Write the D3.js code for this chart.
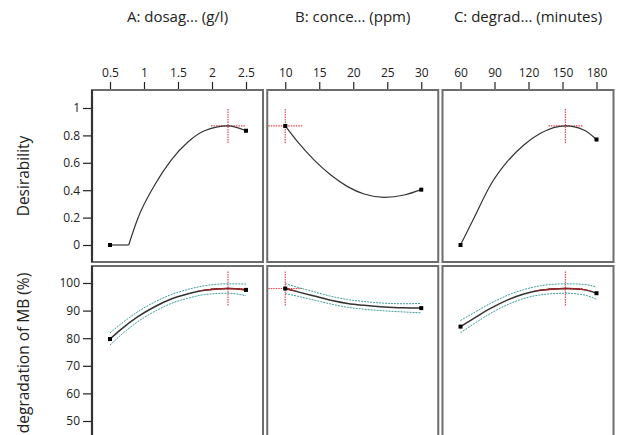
<!DOCTYPE html>
<html>
<head>
<meta charset="utf-8">
<script src="https://cdn.jsdelivr.net/npm/d3@7"></script>
<style>
  html, body { margin: 0; padding: 0; background: #fff; overflow: hidden; }
  svg { display: block; }
</style>
</head>
<body>
<svg id="chart" width="619" height="435"></svg>
<script>
// ---- Factor names and axis ticks ----
const factorTitles = ["A: dosag... (g/l)", "B: conce... (ppm)", "C: degrad... (minutes)"];
const dosageTicks = [0.5, 1, 1.5, 2, 2.5];
const concentrationTicks = [10, 15, 20, 25, 30];
const timeTicks = [60, 90, 120, 150, 180];
const desirabilityTicks = [0, 0.2, 0.4, 0.6, 0.8, 1];
const responseTicks = [40, 50, 60, 70, 80, 90, 100];
const rowTitles = ["Desirability", "degradation of MB (%)"];

// ---- Optimum (crosshair) ----
const optimumFactor = [2.235, 10, 152.6];
const optimumDesirability = 0.869;
const optimumResponse = 98.0;
const highlightFloor = 97.2;   // response values above this are drawn in red

// ---- Desirability traces ----
const dosageDesLevels = [0.5, 0.775, 0.91, 1.157, 1.40, 1.65, 1.89, 2.235, 2.5];
const dosageDesirability = [0, 0, 0.195, 0.438, 0.62, 0.754, 0.834, 0.869, 0.834];
const concDesLevels = [10, 11.8, 14.26, 16.7, 19.17, 21.6, 24.56, 27.5, 30];
const concDesirability = [0.869, 0.754, 0.62, 0.511, 0.426, 0.372, 0.348, 0.365, 0.404];
const timeDesLevels = [60, 71.8, 86.5, 101.2, 115.9, 130.6, 152.6, 168.8, 180];
const timeDesirability = [0, 0.195, 0.438, 0.608, 0.73, 0.815, 0.869, 0.839, 0.77];

// ---- Predicted degradation with confidence band ----
const dosageRespLevels = [0.5, 0.667, 0.91, 1.157, 1.40, 1.65, 1.89, 2.235, 2.5];
const dosageResponse = [79.7, 83.3, 87.8, 91.4, 94.2, 96.1, 97.4, 98.0, 97.5];
const dosageUpper = [81.9, 85.3, 89.6, 93.1, 95.8, 97.7, 99.0, 99.7, 99.6];
const dosageLower = [77.5, 81.3, 86.0, 89.7, 92.6, 94.5, 95.8, 96.3, 95.4];

const concRespLevels = [10, 12, 14.26, 17.06, 19.17, 21.6, 24.56, 27.5, 30];
const concResponse = [98.0, 96.7, 95.3, 93.6, 92.6, 91.9, 91.3, 91.0, 90.9];
const concUpper = [99.8, 98.3, 96.8, 95.0, 94.0, 93.3, 92.7, 92.5, 92.6];
const concLower = [96.2, 95.1, 93.8, 92.2, 91.2, 90.5, 89.9, 89.5, 89.2];

const timeRespLevels = [60, 71.8, 86.5, 101.2, 115.9, 130.6, 152.6, 168.8, 180];
const timeResponse = [84.2, 87.2, 90.8, 93.8, 96.0, 97.35, 98.0, 97.6, 96.3];
const timeUpper = [86.4, 89.2, 92.6, 95.5, 97.6, 99.0, 99.7, 99.5, 98.5];
const timeLower = [82.0, 85.2, 89.0, 92.1, 94.4, 95.7, 96.3, 95.7, 94.1];

// ---- Assemble per-factor records ----
const factors = [
  { title: factorTitles[0], ticks: dosageTicks, desLevels: dosageDesLevels, des: dosageDesirability,
    respLevels: dosageRespLevels, resp: dosageResponse, upper: dosageUpper, lower: dosageLower },
  { title: factorTitles[1], ticks: concentrationTicks, desLevels: concDesLevels, des: concDesirability,
    respLevels: concRespLevels, resp: concResponse, upper: concUpper, lower: concLower },
  { title: factorTitles[2], ticks: timeTicks, desLevels: timeDesLevels, des: timeDesirability,
    respLevels: timeRespLevels, resp: timeResponse, upper: timeUpper, lower: timeLower }
];

// ---- Layout ----
const FONT = "'Segoe UI','Open Sans','Noto Sans',sans-serif";
const panelX0 = 92, panelStep = 175.25, panelW = 171;
const padL = 18, padR = 17;
const rows = [
  { top: 90, bottom: 262, domain: [0, 1], range: [245, 108], ticks: desirabilityTicks, title: rowTitles[0] },
  { top: 266, bottom: 440, domain: [50, 100], range: [421, 283], ticks: responseTicks, title: rowTitles[1] }
];
const crossHalf = 17;

const svg = d3.select("#chart");
const defs = svg.append("defs");

const yScales = rows.map(r => d3.scaleLinear().domain(r.domain).range(r.range));

const lineColor = "#333";
const bandColor = "#3f9e9e";
const crossColor = "#e8484e";
const hiColor = "#9b2226";
const borderColor = "#6d6d6d";

factors.forEach((f, i) => {
  const left = panelX0 + i * panelStep;
  const x = d3.scaleLinear()
    .domain([f.ticks[0], f.ticks[f.ticks.length - 1]])
    .range([left + padL, left + panelW - padR]);

  // column title
  svg.append("text")
    .attr("x", left + panelW / 2).attr("y", 22)
    .attr("text-anchor", "middle")
    .attr("font-family", FONT).attr("font-size", 15).attr("fill", "#222")
    .text(f.title);

  // top factor axis
  const xAxis = svg.append("g")
    .attr("transform", `translate(0,${rows[0].top})`)
    .call(d3.axisTop(x).tickValues(f.ticks).tickSize(8).tickSizeOuter(0).tickPadding(5)
      .tickFormat(d3.format("~g")));
  xAxis.select(".domain").remove();
  xAxis.selectAll("line").attr("stroke", "#222").attr("stroke-width", 1.2);
  xAxis.selectAll("text").attr("font-family", FONT).attr("font-size", 12).attr("fill", "#222");

  rows.forEach((r, ri) => {
    const y = yScales[ri];
    const clipId = `clip-${i}-${ri}`;
    defs.append("clipPath").attr("id", clipId)
      .append("rect").attr("x", left).attr("y", r.top).attr("width", panelW).attr("height", r.bottom - r.top);

    const g = svg.append("g").attr("clip-path", `url(#${clipId})`);

    const optX = x(optimumFactor[i]);
    const optY = ri === 0 ? y(optimumDesirability) : y(optimumResponse);

    // crosshair at the optimum
    g.append("line")
      .attr("x1", optX).attr("x2", optX).attr("y1", optY - crossHalf).attr("y2", optY + crossHalf)
      .attr("stroke", crossColor).attr("stroke-width", 1.2).attr("stroke-dasharray", "1.5,1");
    g.append("line")
      .attr("x1", optX - crossHalf).attr("x2", optX + crossHalf).attr("y1", optY).attr("y2", optY)
      .attr("stroke", crossColor).attr("stroke-width", 1.2).attr("stroke-dasharray", "1.5,1");

    const line = d3.line().x(d => x(d[0])).y(d => y(d[1])).curve(d3.curveMonotoneX);

    if (ri === 0) {
      const pts = f.desLevels.map((v, k) => [v, f.des[k]]);
      // flat run at zero desirability, then the rising trace
      let lastZero = -1;
      for (let k = 0; k < pts.length && pts[k][1] === 0; k++) lastZero = k;
      if (lastZero > 0) {
        g.append("path").datum(pts.slice(0, lastZero + 1))
          .attr("d", d3.line().x(d => x(d[0])).y(d => y(d[1])))
          .attr("fill", "none").attr("stroke", lineColor).attr("stroke-width", 1.2);
      }
      g.append("path").datum(pts.slice(Math.max(lastZero, 0)))
        .attr("d", line)
        .attr("fill", "none").attr("stroke", lineColor).attr("stroke-width", 1.2);
      [pts[0], pts[pts.length - 1]].forEach(p => {
        g.append("rect").attr("x", x(p[0]) - 2).attr("y", y(p[1]) - 2)
          .attr("width", 4).attr("height", 4).attr("fill", "#000");
      });
    } else {
      const pts = f.respLevels.map((v, k) => [v, f.resp[k]]);
      const up = f.respLevels.map((v, k) => [v, f.upper[k]]);
      const lo = f.respLevels.map((v, k) => [v, f.lower[k]]);
      [up, lo].forEach(b => {
        g.append("path").datum(b).attr("d", line)
          .attr("fill", "none").attr("stroke", bandColor).attr("stroke-width", 1)
          .attr("stroke-dasharray", "2,1");
      });
      g.append("path").datum(pts).attr("d", line)
        .attr("fill", "none").attr("stroke", lineColor).attr("stroke-width", 1.5);
      // red stretch of the trace near the optimum
      const hiId = `hi-${i}`;
      defs.append("clipPath").attr("id", hiId)
        .append("rect").attr("x", left).attr("y", r.top).attr("width", panelW)
        .attr("height", y(highlightFloor) - r.top);
      g.append("path").datum(pts).attr("d", line).attr("clip-path", `url(#${hiId})`)
        .attr("fill", "none").attr("stroke", hiColor).attr("stroke-width", 1.5);
      [pts[0], pts[pts.length - 1]].forEach(p => {
        g.append("rect").attr("x", x(p[0]) - 2).attr("y", y(p[1]) - 2)
          .attr("width", 4).attr("height", 4).attr("fill", "#000");
      });
    }

    // panel frame
    svg.append("rect")
      .attr("x", left).attr("y", r.top).attr("width", panelW).attr("height", r.bottom - r.top)
      .attr("fill", "none").attr("stroke", borderColor).attr("stroke-width", 2);
  });
});

// left value axes and row titles
rows.forEach((r, ri) => {
  const y = yScales[ri];
  const ax = svg.append("g")
    .attr("transform", `translate(${panelX0},0)`)
    .call(d3.axisLeft(y).tickValues(r.ticks).tickSize(9).tickSizeOuter(0).tickPadding(3)
      .tickFormat(d3.format("~g")));
  ax.select(".domain").remove();
  ax.selectAll("line").attr("stroke", "#222").attr("stroke-width", 1.2);
  ax.selectAll("text").attr("font-family", FONT).attr("font-size", 12).attr("fill", "#222");
  ax.selectAll(".tick").filter(d => y(d) < r.top || y(d) > r.bottom).remove();

  // dark axis spine along the left edge
  svg.append("line")
    .attr("x1", panelX0).attr("x2", panelX0).attr("y1", r.top).attr("y2", r.bottom)
    .attr("stroke", "#333").attr("stroke-width", 2.2);

  svg.append("text")
    .attr("transform", `translate(29,${(r.top + r.bottom) / 2}) rotate(-90)`)
    .attr("text-anchor", "middle")
    .attr("font-family", FONT).attr("font-size", 15.5).attr("fill", "#222")
    .text(r.title);
});
</script>
</body>
</html>
